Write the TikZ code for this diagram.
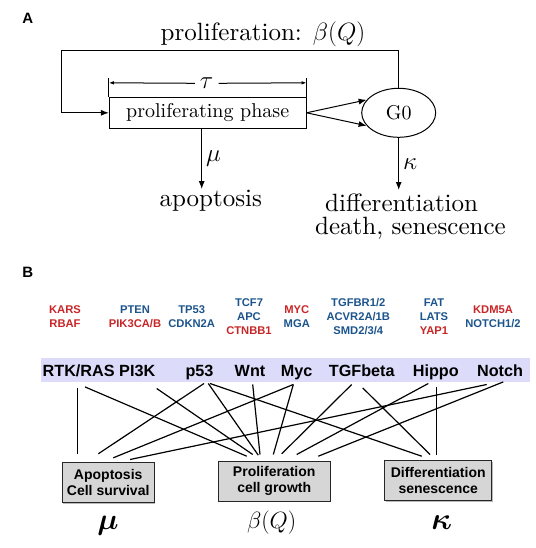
\RequirePackage{fix-cm}
\documentclass[tikz,border=0pt]{standalone}
\usepackage{amsmath}
\usepackage{fontspec}
\setmainfont{lmroman10-regular.otf}
\newfontfamily\hv{Liberation Sans}
\usetikzlibrary{arrows.meta,shapes.geometric,calc,shadows}
\definecolor{genered}{RGB}{200,38,40}
\definecolor{geneblue}{RGB}{28,84,140}
\definecolor{bandcol}{RGB}{220,220,250}
\definecolor{boxfill}{RGB}{214,214,214}
\begin{document}
\begin{tikzpicture}[x=1pt,y=-1pt,
  arr/.style={-{Latex[length=8pt,width=6pt]}, line width=1pt},
  tarr/.style={-{Latex[length=5pt,width=3.6pt]}, line width=1pt},
  big/.style={font=\fontsize{25}{30}\selectfont},
  mid/.style={font=\fontsize{20}{24}\selectfont},
  panel/.style={font=\hv\bfseries\fontsize{15}{18}\selectfont, anchor=base west, inner sep=0},
  gene/.style={font=\hv\bfseries\fontsize{11.2}{14}\selectfont, align=center, inner sep=0, text=geneblue},
  bitem/.style={font=\hv\bfseries\fontsize{16.2}{18}\selectfont, anchor=base, inner sep=0, text height=12pt, text depth=4pt},
  gbox/.style={draw=black!85, line width=1pt, fill=boxfill, font=\hv\bfseries\fontsize{14}{16}\selectfont, align=center, inner sep=0, drop shadow={shadow xshift=1pt, shadow yshift=-1pt, fill=black!55}},
  bl/.style={line width=1.2pt}
]
\useasboundingbox (0,0) rectangle (535,548);

% ---------------- Part A ----------------
\node[panel] (labA) at (22.2,23.9) {A};
\node[big, anchor=base, inner sep=0] (fbl) at (263,40.3) {proliferation: $\beta(Q)$};
\node[draw, line width=1pt, minimum width=196.7pt, minimum height=31pt, inner sep=0, mid] (pp) at (207.7,112.8) {proliferating phase};
\node[draw, ellipse, line width=1pt, minimum width=74pt, minimum height=49pt, inner sep=0, mid] (g0) at (398.7,112.8) {G0};
\node[big, inner sep=5pt] (tau) at (206.7,83.3) {$\tau$};

\draw[line width=1pt] (pp.north west) -- ++(0,-18.3);
\draw[line width=1pt] (pp.north east) -- ++(0,-18.3);
\draw[tarr] (tau.west) -- ($(pp.north west)+(0,-14)$);
\draw[tarr] (tau.east) -- ($(pp.north east)+(0,-14)$);

\draw[arr] (g0.north) |- (61,51) |- (pp.west);
\draw[arr] (pp.east) -- (g0.158);
\draw[arr] (pp.east) -- (g0.202);

\node[big, anchor=base, inner sep=0] (apo) at (210.8,206.7) {apoptosis};
\coordinate (mu0) at ([xshift=-6pt]pp.south);
\draw[arr] (mu0) -- node[right, big, inner sep=4pt] {$\mu$} ($(mu0 |- apo.north)+(0,-1)$);

\node[anchor=north west, inner sep=0, align=left, font=\fontsize{25}{22.7}\selectfont] (dif) at (315,193.7) {\hspace*{10pt}differentiation\\death, senescence};
\draw[arr] (g0.south) -- node[right, big, inner sep=4pt] {$\kappa$} ($(g0.south |- dif.north)+(0,-3.7)$);

% ---------------- Part B ----------------
\node[panel] (labB) at (22.2,277) {B};

\node[gene, text=genered] (gk) at (65,316.5) {KARS\\RBAF};
\node[gene] (gp) at (135,316.5) {PTEN\\\textcolor{genered}{PIK3CA/B}};
\node[gene] (gt) at (191.7,316.5) {TP53\\CDKN2A};
\node[gene] (gw) at (249,316.5) {TCF7\\APC\\\textcolor{genered}{CTNBB1}};
\node[gene] (gm) at (296.8,316.5) {\textcolor{genered}{MYC}\\MGA};
\node[gene] (gtg) at (358.3,316.5) {TGFBR1/2\\ACVR2A/1B\\SMD2/3/4};
\node[gene] (gh) at (434,316.5) {FAT\\LATS\\\textcolor{genered}{YAP1}};
\node[gene] (gn) at (493,316.5) {\textcolor{genered}{KDM5A}\\NOTCH1/2};

\node[fill=bandcol, minimum width=489pt, minimum height=23.4pt, inner sep=0] (band) at (285.5,370) {};
\node[bitem] (rtk) at (78.7,376.7) {RTK/RAS};
\node[bitem] (pik) at (137.2,376.7) {PI3K};
\node[bitem] (p53) at (199.5,376.7) {p53};
\node[bitem] (wnt) at (250,376.7) {Wnt};
\node[bitem] (myc) at (296.7,376.7) {Myc};
\node[bitem] (tgf) at (361.7,376.7) {TGFbeta};
\node[bitem] (hip) at (435.8,376.7) {Hippo};
\node[bitem] (notch) at (500,376.7) {Notch};

\node[gbox, minimum width=91.7pt, minimum height=40.4pt] (bapo) at (108.2,482.5) {Apoptosis\\Cell survival};
\node[gbox, minimum width=111.6pt, minimum height=40pt] (bpro) at (274.2,481) {Proliferation\\cell growth};
\node[gbox, minimum width=106.8pt, minimum height=40pt] (bdif) at (438.2,480.8) {Differentiation\\senescence};

\draw[bl] ($(rtk.south)+(-1,6.6)$) -- ($(bapo.north)+(-30.5,-8)$);
\draw[bl] ($(rtk.south)+(6.3,6)$) -- ($(bpro.north)+(-27.5,-4.3)$);
\draw[bl] ($(pik.south)+(19.5,7.6)$) -- ($(bpro.north)+(-21.5,-6)$);
\draw[bl] ($(p53.south)+(4.5,2.6)$) -- ($(bapo.north)+(-9.9,-8)$);
\draw[bl] ($(p53.south)+(8.8,2.6)$) -- ($(bpro.north)+(-15.9,-5.3)$);
\draw[bl] ($(p53.south)+(10.5,2.6)$) -- ($(bdif.north)+(-16.5,-4.1)$);
\draw[bl] ($(wnt.south)+(2.7,3.6)$) -- ($(bpro.north)+(-14.2,-6)$);
\draw[bl] ($(myc.south)+(-3.4,3.6)$) -- ($(bapo.north)+(5.1,-4)$);
\draw[bl] ($(myc.south)+(-3.4,3.6)$) -- ($(bpro.north)+(-0.9,-6)$);
\draw[bl] ($(tgf.south)+(-10,3.6)$) -- ($(bpro.north)+(7.5,-6.7)$);
\draw[bl] ($(tgf.south)+(1,7)$) -- ($(bdif.north)+(-8.2,-5.8)$);
\draw[bl] ($(hip.south)+(-7.5,2.6)$) -- ($(bpro.north)+(22.5,-6)$);
\draw[bl] ($(hip.south)+(0.9,6)$) -- ($(bdif.north)+(-1.5,-5.8)$);
\draw[bl] ($(notch.south)+(-13.3,3.6)$) -- ($(bapo.north)+(21.8,-2.3)$);
\draw[bl] ($(notch.south)+(3.3,1)$) -- ($(bpro.north)+(44.1,-4.3)$);

\node[anchor=base, inner sep=0, font=\fontsize{30}{34}\selectfont] (mub) at (108,529) {$\boldsymbol{\mu}$};
\node[anchor=base, inner sep=0, font=\fontsize{23.5}{28}\selectfont] (beb) at (271.6,528) {$\beta(Q)$};
\node[anchor=base, inner sep=0, font=\fontsize{31}{34}\selectfont] (kab) at (441.8,529) {$\boldsymbol{\kappa}$};
\end{tikzpicture}
\end{document}
